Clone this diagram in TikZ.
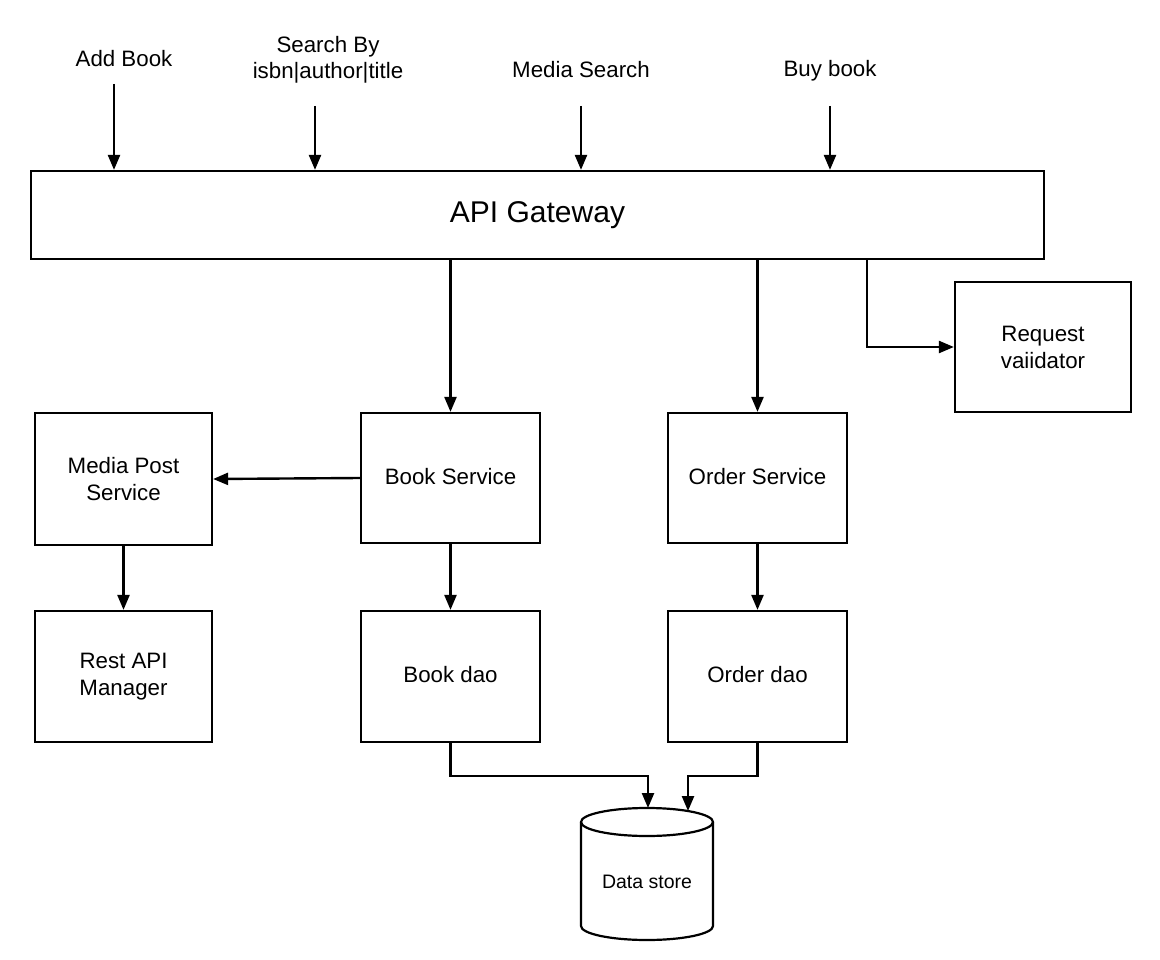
\documentclass[tikz,border=0pt]{standalone}
\usepackage{fontspec}
\setmainfont{Liberation Sans}
\usetikzlibrary{arrows.meta}
\begin{document}
\begin{tikzpicture}[x=1pt,y=1pt,
  box/.style={draw, line width=2.2pt, inner sep=0pt, align=center,
    font=\fontsize{22.3}{27}\selectfont},
  lbl/.style={inner sep=0pt, align=center, font=\fontsize{22.3}{26}\selectfont},
  conn/.style={line width=2.4pt, -{Triangle[length=15pt,width=12pt]}},
]
\useasboundingbox (0,0) rectangle (1160,-960);

% gateway
\node[box, minimum width=1013, minimum height=88, font=\fontsize{30}{34}\selectfont]
  (gw) at (537.5,-215) {API Gateway};

% top labels
\node[lbl] (l1) at (124,-59) {Add Book};
\node[lbl] (l2) at (328,-60) {Search By\\isbn|author|title};
\node[lbl] (l3) at (581,-70) {Media Search};
\node[lbl] (l4) at (830,-71) {Buy book};
\coordinate (a1) at (114,-84);
\coordinate (a2) at (315,-106);
\coordinate (a3) at (581,-106);
\coordinate (a4) at (830,-106);
\draw[conn] (a1) -- (a1 |- gw.north);
\draw[conn] (a2) -- (a2 |- gw.north);
\draw[conn] (a3) -- (a3 |- gw.north);
\draw[conn] (a4) -- (a4 |- gw.north);

% boxes
\node[box, minimum width=176, minimum height=130] (rv) at (1043,-347) {Request\\vaiidator};
\node[box, minimum width=179, minimum height=130] (bs) at (450.5,-478) {\raisebox{4pt}{Book Service}};
\node[box, minimum width=179, minimum height=130] (os) at (757.5,-478) {\raisebox{4pt}{Order Service}};
\node[box, minimum width=177, minimum height=132] (mp) at (123.5,-479) {Media Post\\Service};
\node[box, minimum width=177, minimum height=131] (ra) at (123.5,-676.5) {Rest API\\Manager};
\node[box, minimum width=179, minimum height=131] (bd) at (450.5,-676.5) {\raisebox{4pt}{Book dao}};
\node[box, minimum width=179, minimum height=131] (od) at (757.5,-676.5) {\raisebox{4pt}{Order dao}};

% data store
\node[inner sep=0pt, minimum width=132, minimum height=132, font=\fontsize{19.5}{23}\selectfont]
  (ds) at (647,-882) {Data store};
\draw[line width=2.2pt] (647,-822) ellipse [x radius=66, y radius=14];
\draw[line width=2.2pt] (581,-822) -- (581,-926)
  arc[start angle=180, end angle=360, x radius=66, y radius=14] -- (713,-822);
\coordinate (ds1) at (648,-808);
\coordinate (ds2) at (688,-811);

% connectors
\coordinate (g3) at (867,-259);
\draw[conn] (bs.north |- gw.south) -- (bs.north);
\draw[conn] (os.north |- gw.south) -- (os.north);
\draw[conn] (g3) |- (rv.west);
\draw[conn] (bs.west) -- (mp.east);
\draw[conn] (mp.south) -- (ra.north);
\draw[conn] (bs.south) -- (bd.north);
\draw[conn] (os.south) -- (od.north);
\draw[conn] (bd.south) -- ++(0,-33) -| (ds1);
\draw[conn] (od.south) -- ++(0,-33) -| (ds2);
\end{tikzpicture}
\end{document}
